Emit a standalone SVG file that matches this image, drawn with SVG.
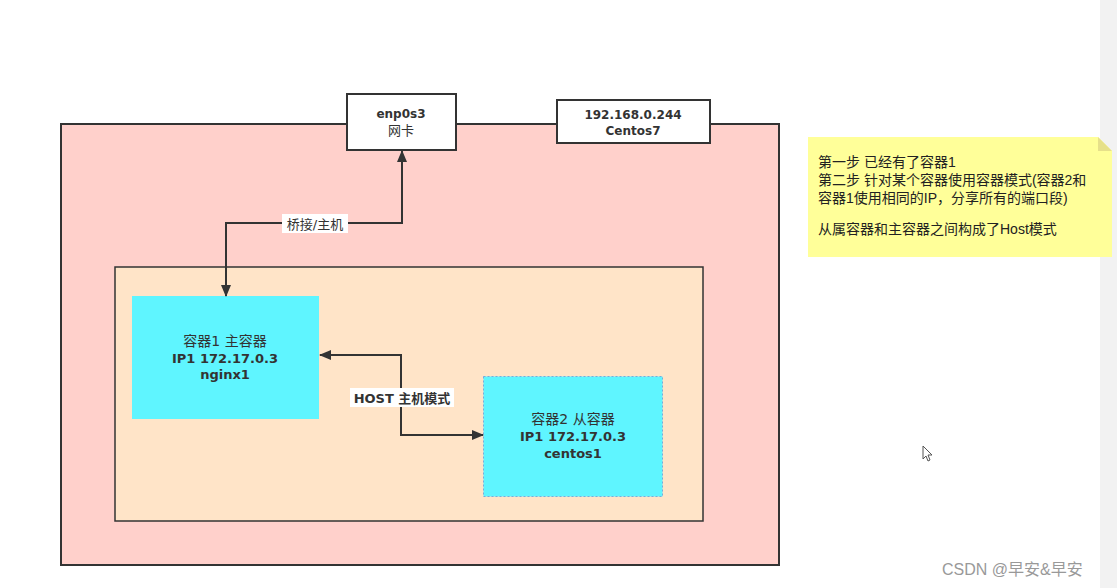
<svg xmlns="http://www.w3.org/2000/svg" width="1117" height="588" viewBox="0 0 1117 588">
<style>
text{font-family:"DejaVu Sans","Noto Sans CJK SC",sans-serif;fill:#333;font-weight:bold;}
.c{text-anchor:middle;font-size:13px;}
.t{font-size:14px;font-weight:normal;}
.box{stroke:#333;stroke-width:2;}
.conn{fill:none;stroke:#333;stroke-width:2;}
.note{font-family:"Liberation Sans","Noto Sans CJK SC",sans-serif;font-size:14px;font-weight:normal;fill:#222;}
</style>
<defs>
<marker id="ah" viewBox="0 0 12 10" refX="11" refY="5" markerWidth="12" markerHeight="10" orient="auto-start-reverse" markerUnits="userSpaceOnUse">
<path d="M0,0 L12,5 L0,10 z" fill="#333"/>
</marker>
</defs>
<rect x="0" y="0" width="1117" height="588" fill="#fff"/>
<rect x="1100" y="0" width="17" height="588" fill="#f2f2f2"/>
<g id="host">
<rect class="box" x="61" y="124" width="718" height="441" fill="#ffd0cb"/>
</g>
<g id="inner">
<rect x="115" y="267" width="588" height="254" fill="#ffe4c8" stroke="#333" stroke-width="1.5"/>
</g>
<g id="nic">
<rect class="box" x="347" y="94" width="109" height="56" fill="#fff"/>
<text class="c" x="401" y="118" style="font-size:12px">enp0s3</text>
<text class="c" x="401" y="135" style="font-weight:normal">网卡</text>
</g>
<g id="ip">
<rect class="box" x="557" y="100" width="153" height="43" fill="#fff"/>
<text class="c" x="633" y="119" style="font-size:12px">192.168.0.244</text>
<text class="c" x="633" y="135" style="font-size:12px">Centos7</text>
</g>
<g id="c1">
<rect x="132" y="296" width="187" height="123" fill="#5ff5ff"/>
<text class="c t" x="225" y="346">容器1 主容器</text>
<text class="c" x="225" y="363">IP1 172.17.0.3</text>
<text class="c" x="225" y="379">nginx1</text>
</g>
<g id="c2">
<rect x="483.5" y="376.5" width="179" height="120" fill="#5ff5ff" stroke="#7ad" stroke-width="1" stroke-dasharray="2,2"/>
<text class="c t" x="573" y="424">容器2 从容器</text>
<text class="c" x="573" y="441">IP1 172.17.0.3</text>
<text class="c" x="573" y="458">centos1</text>
</g>
<g id="connectors">
<path class="conn" d="M226,296 L226,223 L402,223 L402,151" marker-start="url(#ah)" marker-end="url(#ah)"/>
<rect x="282" y="214" width="66" height="19" fill="#fff"/>
<text class="c" x="315" y="229" style="font-weight:normal">桥接/主机</text>
<path class="conn" d="M320,355 L401,355 L401,435 L483,435" marker-start="url(#ah)" marker-end="url(#ah)"/>
<rect x="350" y="388" width="104" height="19" fill="#fff"/>
<text class="c" x="402" y="403">HOST 主机模式</text>
</g>
<g id="note">
<path d="M808,137 L1098,137 L1112,151 L1112,257 L808,257 z" fill="#ffff99"/>
<path d="M1098,137 L1098,151 L1112,151 z" fill="#e6e08a"/>
<text class="note" x="818" y="167">第一步 已经有了容器1</text>
<text class="note" x="818" y="185">第二步 针对某个容器使用容器模式(容器2和</text>
<text class="note" x="818" y="203">容器1使用相同的IP，分享所有的端口段)</text>
<text class="note" x="818" y="234">从属容器和主容器之间构成了Host模式</text>
</g>
<path d="M923,446 L923,459 L926,456 L928,461 L930,460 L928,455 L932,455 z" fill="#fff" stroke="#555" stroke-width="1"/>
<text x="942" y="575" style="font-family:'Liberation Sans','Noto Sans CJK SC',sans-serif;font-weight:normal;font-size:16px;fill:#999">CSDN @早安&amp;早安</text>
</svg>
